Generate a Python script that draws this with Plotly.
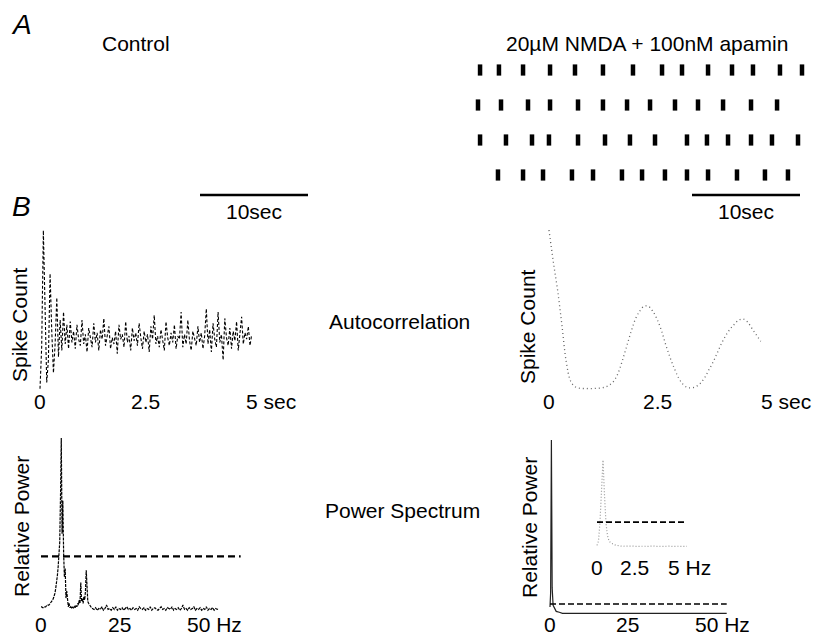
import plotly.graph_objects as go

W, H = 822, 635
OFF = 8            # page body margin of the browser
FW, FH = W - OFF, H - OFF
FONT = "Liberation Sans, Arial, sans-serif"
FS = 21

# ---------------- DATA ----------------
# A: spike raster (seconds) for four sweeps, NMDA + apamin
raster_row1 = [0.19, 1.94, 4.17, 6.67, 8.98, 11.57, 14.35, 17.04, 18.89, 21.30, 23.52, 25.46, 27.96, 30.0]
raster_row2 = [0.0, 2.13, 4.63, 6.67, 9.26, 11.57, 13.80, 15.93, 18.24, 20.37, 22.69, 25.28, 27.69]
raster_row3 = [0.19, 2.59, 5.0, 6.57, 9.26, 11.76, 14.07, 16.39, 19.35, 21.20, 23.15, 25.28, 27.22, 29.63]
raster_row4 = [1.85, 4.17, 6.02, 8.70, 10.65, 13.33, 15.19, 17.31, 19.35, 21.30, 23.98, 26.57, 28.70]
scale_bar_sec = 10

# B: autocorrelation, control (bin 0.04 s)
ac_ctrl_bin = 0.04
ac_ctrl = [2, 28, 101, 55, 6, 20, 74, 38, 12, 30, 59, 22, 45, 26, 50, 30, 42, 27, 44,
           31, 38, 27, 42, 33, 29, 45, 30, 36, 25, 40, 34, 28, 43, 31, 37, 26, 39, 33, 46,
           29, 35, 41, 27, 34, 30, 38, 24, 42, 33, 36, 28, 44, 31, 35, 26, 40, 32, 37, 29,
           43, 34, 27, 38, 31, 36, 25, 41, 33, 48, 30, 35, 28, 39, 32, 26, 44, 34, 29, 37,
           31, 42, 27, 35, 33, 50, 28, 36, 30, 45, 32, 26, 38, 34, 29, 41, 31, 37, 27, 35,
           52, 30, 39, 25, 43, 33, 28, 50, 31, 36, 20, 46, 34, 29, 40, 27, 38, 32, 44, 26,
           35, 47, 30, 37, 33, 41, 29, 36]

# B: autocorrelation, NMDA + apamin (bin 0.1 s)
ac_nmda_bin = 0.1
ac_nmda = [100, 80, 62, 40, 17, 5, 1.5, 0.5, 0.3, 0.3, 0.3, 0.4, 0.6, 1.2, 2.5, 5, 10, 18, 27, 36,
           44, 49, 52, 52, 49, 44, 37, 28, 20, 13, 7, 3, 1, 0.8, 1.5, 3.5, 7, 12, 17, 23,
           29, 34, 38, 41, 43.5, 44, 42, 38, 34, 30]

# B: power spectrum, control
ps_ctrl_low_step = 0.25   # 0 - 16 Hz
ps_ctrl_low = [3, 3, 2.5, 2.5, 2.5, 3, 3, 3.5, 3.5, 4, 4, 4.5, 5, 5.5, 6, 7, 8, 9, 11, 14,
               17, 21, 26, 33, 40, 66, 100, 45, 64, 34, 20, 25, 8, 12, 4, 3, 5, 2.5, 3, 2,
               3, 2, 2.5, 3.5, 2.5, 4, 3, 5, 4, 7, 5, 17, 6, 8, 5, 9, 7, 12, 24, 8,
               6, 5, 4, 3, 3]
ps_ctrl_high_start = 16.5
ps_ctrl_high_step = 0.5   # 16.5 - 57 Hz
ps_ctrl_high = [2, 1.5, 2.5, 1, 2, 1.5, 3, 1, 2, 4, 1.5, 2, 1, 2.5, 1.5, 3, 1, 2, 1.5, 2.5,
                1, 2, 3, 1.5, 2, 1, 2.5, 1.5, 2, 1, 3, 2, 1.5, 2.5, 1, 2, 1.5, 3, 1, 2,
                2.5, 1.5, 1, 2, 3, 1.5, 2, 1, 2.5, 2, 1.5, 3, 1, 2, 1.5, 2.5, 1, 2, 4, 1.5,
                2, 1, 2.5, 1.5, 2, 3, 1, 2, 1.5, 2.5, 1, 2, 1.5, 3, 1, 2, 1.5, 2.5, 1, 2,
                1.5, 2]
ps_ctrl_threshold = 32
ps_ctrl_threshold_span = [0, 64]

# B: power spectrum, NMDA + apamin
ps_nmda_freq = [0, 0.2, 0.45, 0.7, 1.0, 1.5, 2, 3] + list(range(4, 58))
ps_nmda = [4, 12, 100, 15, 5, 3, 1.5, 1] + [0.4] * 54
ps_nmda_threshold = 5.7
ps_nmda_threshold_span = [0, 57]

# inset: low-frequency detail (0.1 Hz bins)
ps_inset_step = 0.1
ps_inset = [3, 8, 30, 75, 100, 60, 28, 14, 8, 6, 5, 4, 3.5, 3, 2.5, 2.5,
            2.2, 2, 2.1, 1.9, 2, 2.2, 1.8, 2, 2.1, 1.9, 2, 1.8, 2.1, 2, 1.9, 2.2, 2, 1.8, 2, 2.1,
            1.9, 2, 2.2, 1.8, 2, 1.9, 2.1, 2, 1.8, 2, 2.1, 1.9, 2, 2.2, 1.8, 2, 1.9, 2.1, 2, 1.8,
            2, 2.1, 1.9, 2, 2]
ps_inset_threshold = 29.5
ps_inset_threshold_span = [0, 6]

ac_ticks = [0, 2.5, 5]
ac_ticktext = ["0", "2.5", "5"]
ac_unit = "sec"
ps_ticks = [0, 25, 50]
ps_ticktext = ["0", "25", "50"]
inset_ticks = [0, 2.5, 5]
inset_ticktext = ["0", "2.5", "5"]
ps_unit = "Hz"

# ---------------- HELPERS ----------------
def fx(px):
    return (px - OFF) / FW

def fy(py):
    return 1 - (py - OFF) / FH

def dom_x(a, b):
    return [fx(a), fx(b)]

def dom_y(top, bottom):
    return [fy(bottom), fy(top)]

fig = go.Figure()

# ---- axes layout (pixel domains of the target picture) ----
axes = {
    "1": ((470, 810), (60, 185), [-0.741, 30.741], [4.286, 0.714]),
    "2": ((30, 270), (220, 400), [-0.238, 5.476], [-5, 107.5]),
    "3": ((540, 780), (220, 400), [-0.208, 5.347], [-6.92, 106.3]),
    "4": ((30, 250), (425, 615), [-3.526, 66.99], [-1.72, 107.47]),
    "5": ((540, 740), (425, 618), [-3.226, 61.29], [-2.3, 108.6]),
    "6": ((590, 700), (450, 552), [-0.467, 6.867], [-4.55, 111.4]),
}
for k, (xd, yd, xr, yr) in axes.items():
    sfx = "" if k == "1" else k
    fig.layout["xaxis" + sfx] = dict(domain=dom_x(*xd), range=xr, visible=False,
                                     anchor="y" + sfx, fixedrange=True)
    fig.layout["yaxis" + sfx] = dict(domain=dom_y(*yd), range=yr, visible=False,
                                     anchor="x" + sfx, fixedrange=True)

# ---- raster ----
for i, row in enumerate([raster_row1, raster_row2, raster_row3, raster_row4]):
    fig.add_trace(go.Scatter(
        x=row, y=[i + 1] * len(row), mode="markers", xaxis="x", yaxis="y",
        marker=dict(symbol="line-ns", size=8, line=dict(width=4.5, color="black")),
        showlegend=False, hoverinfo="skip"))

# ---- autocorrelation ----
fig.add_trace(go.Scatter(
    x=[i * ac_ctrl_bin for i in range(len(ac_ctrl))], y=ac_ctrl, xaxis="x2", yaxis="y2",
    mode="lines", line=dict(color="black", width=1.1, dash="3px,2px"),
    showlegend=False, hoverinfo="skip"))
fig.add_trace(go.Scatter(
    x=[i * ac_nmda_bin for i in range(len(ac_nmda))], y=ac_nmda, xaxis="x3", yaxis="y3",
    mode="lines", line=dict(color="#666666", width=1.3, dash="1px,3px", shape="spline"),
    showlegend=False, hoverinfo="skip"))

# ---- power spectra ----
ps_ctrl_freq = [i * ps_ctrl_low_step for i in range(len(ps_ctrl_low))] + \
               [ps_ctrl_high_start + i * ps_ctrl_high_step for i in range(len(ps_ctrl_high))]
fig.add_trace(go.Scatter(
    x=ps_ctrl_freq, y=ps_ctrl_low + ps_ctrl_high, xaxis="x4", yaxis="y4",
    mode="lines", line=dict(color="black", width=1.2, dash="3px,1px"),
    showlegend=False, hoverinfo="skip"))
fig.add_trace(go.Scatter(
    x=ps_ctrl_threshold_span, y=[ps_ctrl_threshold] * 2, xaxis="x4", yaxis="y4",
    mode="lines", line=dict(color="black", width=2.2, dash="7px,4px"),
    showlegend=False, hoverinfo="skip"))

fig.add_trace(go.Scatter(
    x=ps_nmda_freq, y=ps_nmda, xaxis="x5", yaxis="y5",
    mode="lines", line=dict(color="#222222", width=1.2),
    showlegend=False, hoverinfo="skip"))
fig.add_trace(go.Scatter(
    x=ps_nmda_threshold_span, y=[ps_nmda_threshold] * 2, xaxis="x5", yaxis="y5",
    mode="lines", line=dict(color="black", width=1.5, dash="6px,3px"),
    showlegend=False, hoverinfo="skip"))

fig.add_trace(go.Scatter(
    x=[i * ps_inset_step for i in range(len(ps_inset))], y=ps_inset, xaxis="x6", yaxis="y6",
    mode="lines", line=dict(color="#999999", width=1.2, dash="1px,2px"),
    showlegend=False, hoverinfo="skip"))
fig.add_trace(go.Scatter(
    x=ps_inset_threshold_span, y=[ps_inset_threshold] * 2, xaxis="x6", yaxis="y6",
    mode="lines", line=dict(color="black", width=1.8, dash="6px,3px"),
    showlegend=False, hoverinfo="skip"))

# ---- annotations ----
ann = []

def text(x, y, s, size=FS, **kw):
    d = dict(x=fx(x), y=fy(y), xref="paper", yref="paper", text=s, showarrow=False,
             font=dict(family=FONT, size=size, color="black"), xanchor="center", yanchor="middle")
    d.update(kw)
    ann.append(d)

text(21, 25, "<i>A</i>", size=28)
text(21, 207, "<i>B</i>", size=28)
text(136, 44, "Control")
text(647, 43, "20\u00b5M NMDA + 100nM apamin")
text(399, 321, "Autocorrelation")
text(402, 510, "Power Spectrum")
text(19, 325, "Spike Count", textangle=-90)
text(527, 327, "Spike Count", textangle=-90)
text(21, 527, "Relative Power", textangle=-90)
text(529, 528, "Relative Power", textangle=-90)

def tick_labels(xref, vals, texts, unit, ypx):
    for v, t in zip(vals, texts):
        d = dict(x=v, y=fy(ypx), xref=xref, yref="paper", showarrow=False,
                 font=dict(family=FONT, size=FS, color="black"), yanchor="middle")
        if v == vals[-1]:
            d.update(text=f"{t} {unit}", xanchor="left", xshift=-len(t) * 5.85)
        else:
            d.update(text=t, xanchor="center")
        ann.append(d)

tick_labels("x2", ac_ticks, ac_ticktext, ac_unit, 401)
tick_labels("x3", ac_ticks, ac_ticktext, ac_unit, 401)
tick_labels("x4", ps_ticks, ps_ticktext, ps_unit, 624)
tick_labels("x5", ps_ticks, ps_ticktext, ps_unit, 624)
tick_labels("x6", inset_ticks, inset_ticktext, ps_unit, 567)

# scale bars (10 s at raster scale)
px_per_sec = (810 - 470) / (30.741 + 0.741)
bar_px = scale_bar_sec * px_per_sec
shapes = []
for x_end in (308, 800):
    shapes.append(dict(type="line", xref="paper", yref="paper",
                       x0=fx(x_end - bar_px), x1=fx(x_end), y0=fy(195), y1=fy(195),
                       line=dict(color="black", width=2.5)))
    text(x_end - bar_px / 2, 212, f"{scale_bar_sec}sec")

fig.update_layout(
    width=FW, height=FH, margin=dict(l=0, r=0, t=0, b=0),
    paper_bgcolor="white", plot_bgcolor="white",
    annotations=ann, shapes=shapes, showlegend=False,
)

fig.write_html("out.html")
